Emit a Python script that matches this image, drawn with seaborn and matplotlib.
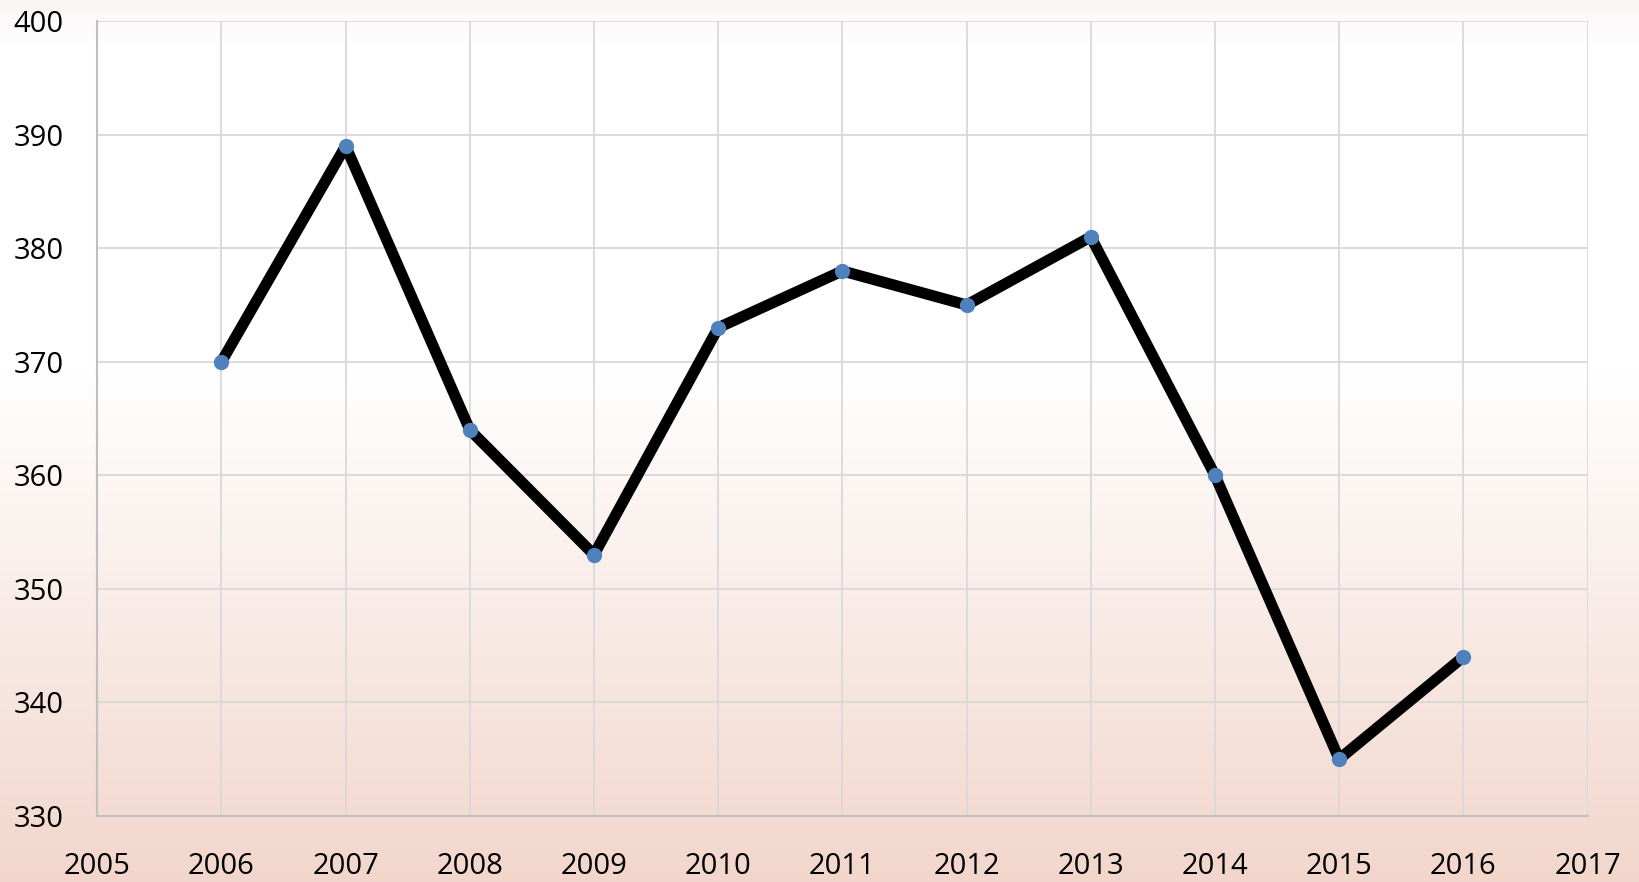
import numpy as np
import matplotlib
matplotlib.use("Agg")
import matplotlib.pyplot as plt
import seaborn as sns
import pandas as pd

years = [2006, 2007, 2008, 2009, 2010, 2011, 2012, 2013, 2014, 2015, 2016]
values = [370, 389, 364, 353, 373, 378, 375, 381, 360, 335, 344]
x_ticks = list(range(2005, 2018))
y_ticks = [330, 340, 350, 360, 370, 380, 390, 400]

df = pd.DataFrame({"year": years, "value": values})

sns.set_style("white")
plt.rcParams['font.family'] = ['Open Sans', 'DejaVu Sans']

fig = plt.figure(figsize=(16.4, 8.82), dpi=100)

# background gradient: faint grey at very top, white, then fading to pink
bg = fig.add_axes([0, 0, 1, 1], zorder=-10)
h = 400
pos = np.linspace(0, 1, h)  # 0 top, 1 bottom
top = np.array([249, 246, 245]) / 255
white = np.array([1.0, 1.0, 1.0])
pink = np.array([242, 214, 204]) / 255
img = np.zeros((h, 1, 3))
for i, p in enumerate(pos):
    if p < 0.05:
        t = p / 0.05
        img[i, 0] = top * (1 - t) + white * t
    elif p < 0.42:
        img[i, 0] = white
    else:
        t = (p - 0.42) / 0.58
        img[i, 0] = white * (1 - t) + pink * t
bg.imshow(img, aspect="auto", extent=[0, 1, 0, 1])
bg.set_axis_off()

ax = fig.add_axes([0.0593, 0.075, 0.9087, 0.901])
ax.set_facecolor("none")

sns.lineplot(data=df, x="year", y="value", ax=ax, color="black",
             linewidth=8, zorder=3)
ax.plot(df["year"], df["value"], linestyle="none", marker="o",
        markersize=10, color="#4f81bd", zorder=4)

ax.set_xlim(2005, 2017)
ax.set_ylim(330, 400)
ax.set_xticks(x_ticks)
ax.set_yticks(y_ticks)
ax.grid(True, color="#d9d9d9", linewidth=1.3)
ax.set_axisbelow(True)
ax.tick_params(axis="both", length=0, labelsize=21, colors="black")
ax.tick_params(axis="x", pad=26)
ax.tick_params(axis="y", pad=24)
for s in ["top", "right"]:
    ax.spines[s].set_visible(False)
for s in ["left", "bottom"]:
    ax.spines[s].set_color("#bfbfbf")
    ax.spines[s].set_linewidth(1.5)
ax.set_xlabel("")
ax.set_ylabel("")

fig.savefig("out.png", dpi=100)
